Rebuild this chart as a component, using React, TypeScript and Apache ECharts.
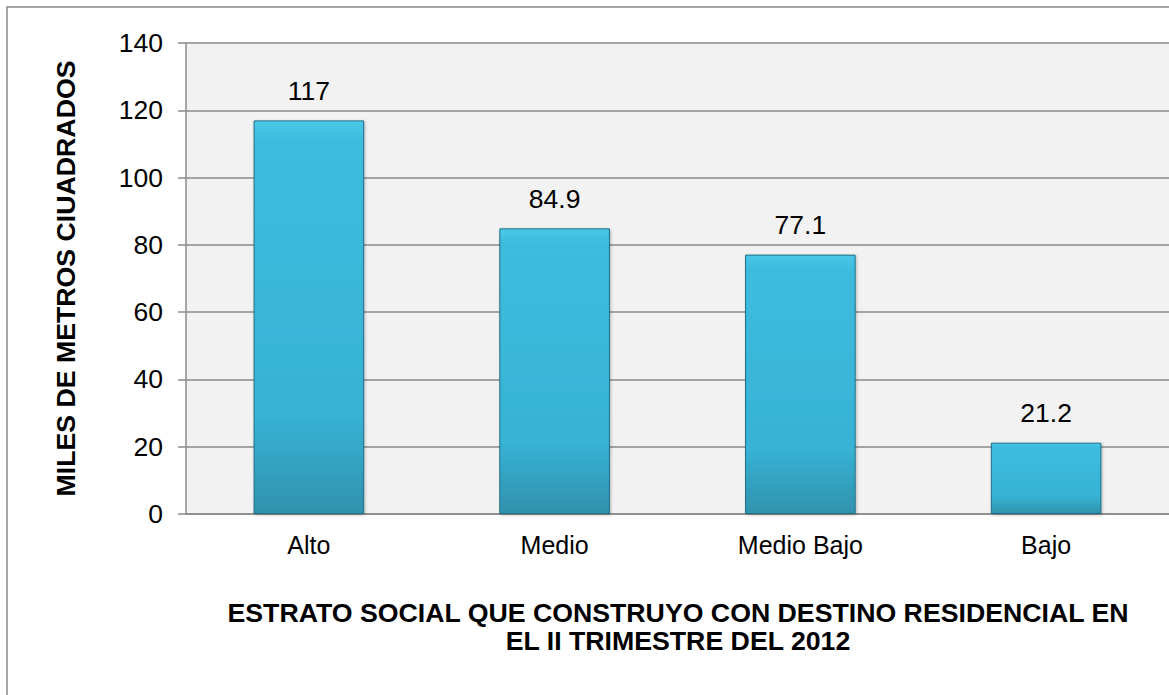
import React, { useEffect, useRef } from "react";
import * as echarts from "echarts";

const categories = ["Alto", "Medio", "Medio Bajo", "Bajo"];
const values = [117, 84.9, 77.1, 21.2];
const yTicks = { min: 0, max: 140, interval: 20 };
const yAxisTitle = "MILES DE METROS CIUADRADOS";
const xAxisTitleLines = [
  "ESTRATO SOCIAL QUE CONSTRUYO CON DESTINO RESIDENCIAL EN",
  "EL II TRIMESTRE DEL 2012",
];

const FONT = "'Liberation Sans', Arial, sans-serif";

export default function App() {
  const ref = useRef<HTMLDivElement>(null);
  useEffect(() => {
    if (!ref.current) return;
    const chart = echarts.init(ref.current, null, { renderer: "svg" });
    chart.setOption({
      animation: false,
      backgroundColor: "#ffffff",
      textStyle: { fontFamily: FONT },
      grid: {
        left: 186,
        right: -13,
        top: 43,
        bottom: 181,
        show: true,
        backgroundColor: "#f2f2f2",
        borderWidth: 0,
      },
      graphic: [
        {
          type: "rect",
          shape: { x: 7, y: 7, width: 1200, height: 720 },
          style: { fill: "none", stroke: "#8a8a8a", lineWidth: 1.5 },
          z: 100,
        },
        {
          type: "text",
          x: 678,
          y: 599,
          style: {
            text: xAxisTitleLines.join("\n"),
            fontFamily: FONT,
            fontSize: 26.7,
            fontWeight: "bold",
            fill: "#000",
            align: "center",
            verticalAlign: "top",
            lineHeight: 28,
          },
        },
      ],
      xAxis: {
        type: "category",
        data: categories,
        axisLine: { show: true, lineStyle: { color: "#8a8a8a", width: 1.5 } },
        axisTick: { show: false },
        axisLabel: { color: "#000", fontSize: 25, margin: 18, fontFamily: FONT },
        splitLine: { show: false },
      },
      yAxis: {
        type: "value",
        min: yTicks.min,
        max: yTicks.max,
        interval: yTicks.interval,
        name: yAxisTitle,
        nameLocation: "middle",
        nameGap: 107,
        nameRotate: 90,
        nameTextStyle: { color: "#000", fontSize: 26.7, fontWeight: "bold", fontFamily: FONT },
        axisLine: { show: true, lineStyle: { color: "#8a8a8a", width: 1.5 } },
        axisTick: { show: true, length: 8, lineStyle: { color: "#8a8a8a", width: 1.5 } },
        axisLabel: { color: "#000", fontSize: 26.5, margin: 23, fontFamily: FONT },
        splitLine: { show: true, lineStyle: { color: "#8a8a8a", width: 1.5 } },
      },
      series: [
        {
          type: "bar",
          data: values,
          barWidth: "45%",
          itemStyle: {
            color: new echarts.graphic.LinearGradient(0, 0, 0, 1, [
              { offset: 0, color: "#4cc8e8" },
              { offset: 0.05, color: "#3dbcdf" },
              { offset: 0.75, color: "#38b2d5" },
              { offset: 1, color: "#2f92ad" },
            ]),
            borderColor: "#1f6f86",
            borderWidth: 1,
            shadowColor: "rgba(0,0,0,0.25)",
            shadowBlur: 3,
            shadowOffsetX: 1,
            shadowOffsetY: 1,
          },
          label: {
            show: true,
            position: "top",
            distance: 16,
            color: "#000",
            fontSize: 26.5,
            fontFamily: FONT,
          },
        },
      ],
    });
    return () => chart.dispose();
  }, []);
  return (
    <div
      ref={ref}
      style={{ position: "fixed", left: 0, top: 0, width: 1169, height: 695 }}
    />
  );
}
